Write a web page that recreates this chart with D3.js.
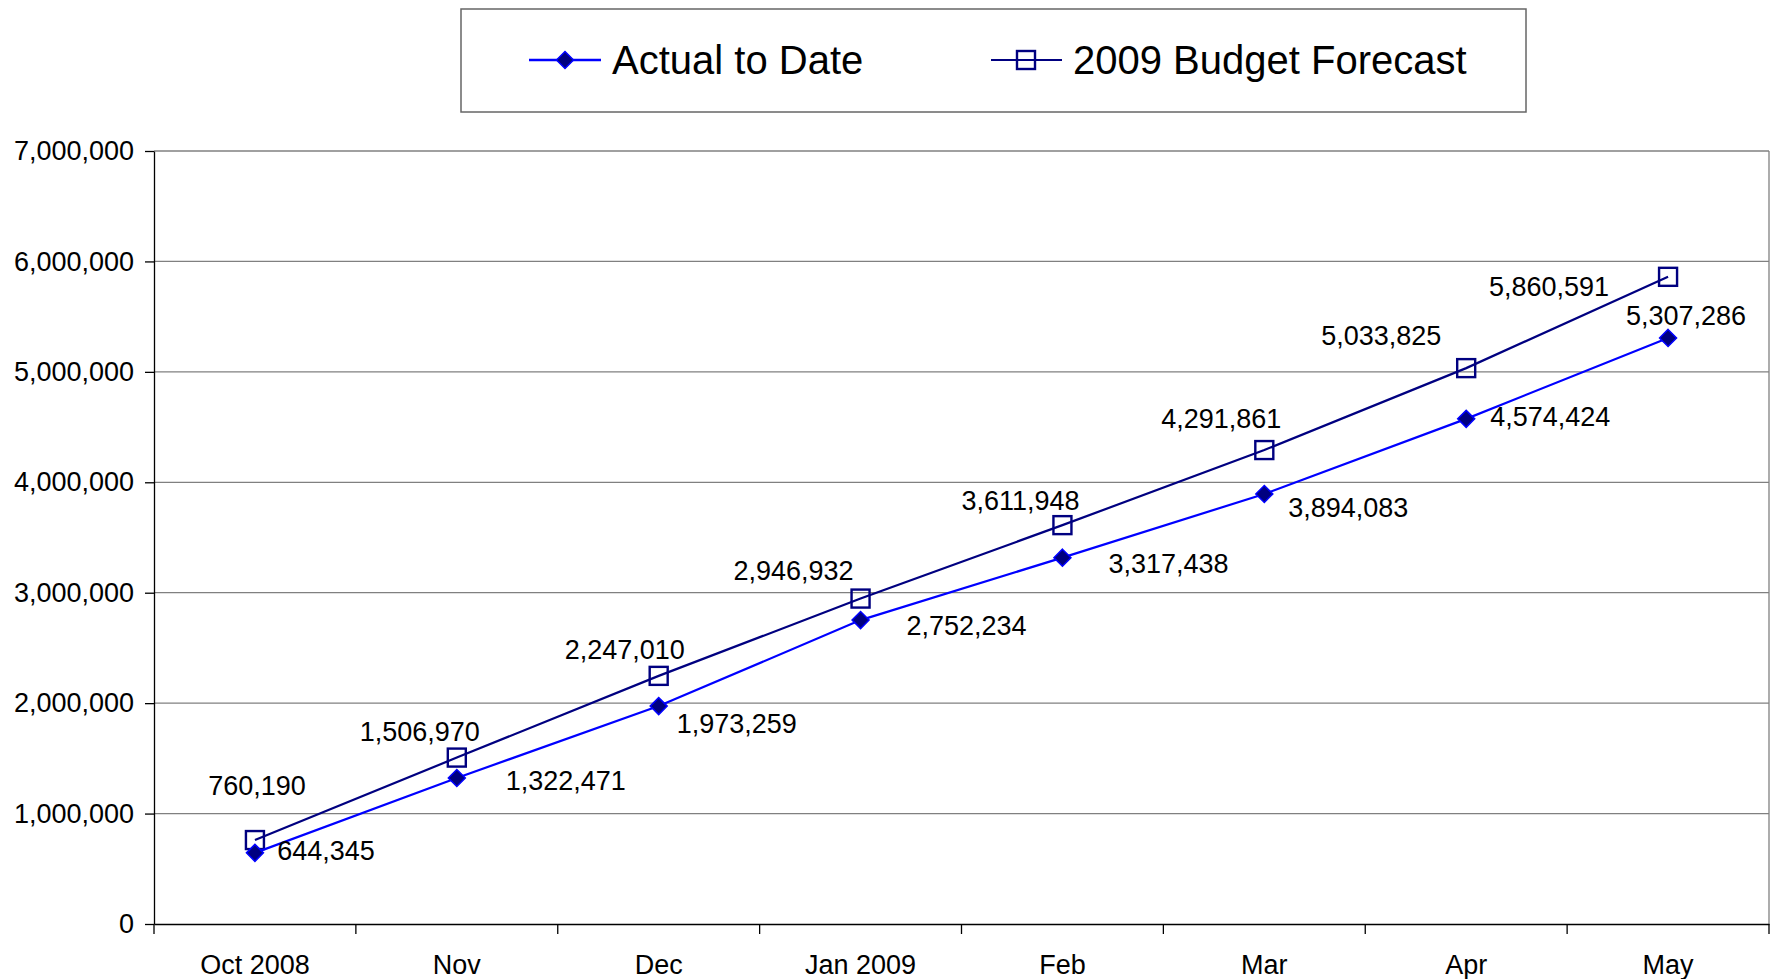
<!DOCTYPE html>
<html>
<head>
<meta charset="utf-8">
<script src="https://cdn.jsdelivr.net/npm/d3@7"></script>
<style>
html,body{margin:0;padding:0;background:#fff;}
svg{display:block;font-family:"Liberation Sans",Arial,sans-serif;}
</style>
</head>
<body>
<svg id="chart" width="1776" height="979"></svg>
<script>
const categories = ["Oct 2008","Nov","Dec","Jan 2009","Feb","Mar","Apr","May"];
const actualToDate = [644345,1322471,1973259,2752234,3317438,3894083,4574424,5307286];
const budgetForecast = [760190,1506970,2247010,2946932,3611948,4291861,5033825,5860591];
const yTicks = [0,1000000,2000000,3000000,4000000,5000000,6000000,7000000];
const seriesNames = ["Actual to Date","2009 Budget Forecast"];
// label offsets (layout only)
const budgetLabelOffsets = [[2,-54],[-37,-26],[-34,-26],[-67,-28],[-42,-24],[-43,-31],[-85,-32],[-119,10]];
const actualLabelOffsets = [[71,-2],[109,3],[78,18],[106,6],[106,6],[84,14],[84,-2],[18,-22]];

const svg = d3.select("#chart");
const L = 154, R = 1769, T = 151, B = 924;
const fs = 27;
const x = d3.scaleBand().domain(categories).range([L,R]).padding(0);
const cx = c => x(c) + x.bandwidth()/2;
const y = d3.scaleLinear().domain([0,7000000]).range([B,T]);
const fmt = d3.format(",");

// gridlines
svg.append("g").selectAll("line").data(yTicks.filter(v=>v>0)).join("line")
  .attr("x1",L).attr("x2",R).attr("y1",d=>y(d)).attr("y2",d=>y(d))
  .attr("stroke","#808080").attr("stroke-width",1.3);
// right border
svg.append("line").attr("x1",R).attr("x2",R).attr("y1",T).attr("y2",B)
  .attr("stroke","#808080").attr("stroke-width",1.3);

// y axis
const yAxis = svg.append("g").attr("transform",`translate(${L},0)`)
  .call(d3.axisLeft(y).tickValues(yTicks).tickFormat(fmt).tickSize(9).tickSizeOuter(0).tickPadding(11));
yAxis.select(".domain").attr("stroke","#000").attr("stroke-width",1.3);
yAxis.selectAll(".tick line").attr("stroke","#000").attr("stroke-width",1.3);
yAxis.selectAll("text").attr("font-size",fs).attr("fill","#000").attr("font-family","Liberation Sans, Arial, sans-serif");

// x axis
const xAxis = svg.append("g").attr("transform",`translate(0,${B})`)
  .call(d3.axisBottom(x).tickSize(0).tickSizeOuter(0).tickPadding(31));
xAxis.select(".domain").attr("stroke","#000").attr("stroke-width",1.6);
xAxis.selectAll("text").attr("font-size",fs).attr("fill","#000").attr("font-family","Liberation Sans, Arial, sans-serif");
const bounds = categories.map(c=>x(c)).concat([R]);
svg.append("g").selectAll("line").data(bounds).join("line")
  .attr("x1",d=>d).attr("x2",d=>d).attr("y1",B).attr("y2",B+10)
  .attr("stroke","#000").attr("stroke-width",1.3);

const line = d3.line().x((d,i)=>cx(categories[i])).y(d=>y(d));

// budget series
svg.append("path").datum(budgetForecast).attr("d",line)
  .attr("fill","none").attr("stroke","#000080").attr("stroke-width",2.2);
svg.append("g").selectAll("rect").data(budgetForecast).join("rect")
  .attr("x",(d,i)=>cx(categories[i])-9).attr("y",d=>y(d)-9)
  .attr("width",18).attr("height",18)
  .attr("fill","none").attr("stroke","#000080").attr("stroke-width",2.4);

// actual series
svg.append("path").datum(actualToDate).attr("d",line)
  .attr("fill","none").attr("stroke","#0000ff").attr("stroke-width",2.2);
function diamondPath(s){return `M0,${-s}L${s},0L0,${s}L${-s},0Z`;}
svg.append("g").selectAll("path").data(actualToDate).join("path")
  .attr("d",diamondPath(8.5))
  .attr("transform",(d,i)=>`translate(${cx(categories[i])},${y(d)})`)
  .attr("fill","#000080").attr("stroke","#0000ff").attr("stroke-width",1.5);

// data labels
svg.append("g").selectAll("text").data(budgetForecast).join("text")
  .attr("x",(d,i)=>cx(categories[i])+budgetLabelOffsets[i][0])
  .attr("y",(d,i)=>y(d)+budgetLabelOffsets[i][1])
  .attr("text-anchor","middle").attr("dominant-baseline","central")
  .attr("font-size",fs).attr("fill","#000").text(fmt);
svg.append("g").selectAll("text").data(actualToDate).join("text")
  .attr("x",(d,i)=>cx(categories[i])+actualLabelOffsets[i][0])
  .attr("y",(d,i)=>y(d)+actualLabelOffsets[i][1])
  .attr("text-anchor","middle").attr("dominant-baseline","central")
  .attr("font-size",fs).attr("fill","#000").text(fmt);

// legend
const lg = svg.append("g");
lg.append("rect").attr("x",461).attr("y",9).attr("width",1065).attr("height",103)
  .attr("fill","#fff").attr("stroke","#666").attr("stroke-width",1.5);
const lgY = 60;
// actual
lg.append("line").attr("x1",529).attr("x2",601).attr("y1",lgY).attr("y2",lgY)
  .attr("stroke","#0000ff").attr("stroke-width",2.6);
lg.append("path").attr("d",diamondPath(8.5)).attr("transform",`translate(565,${lgY})`)
  .attr("fill","#000080").attr("stroke","#0000ff").attr("stroke-width",1.5);
lg.append("text").attr("x",612).attr("y",lgY).attr("dominant-baseline","central")
  .attr("font-size",40).attr("fill","#000").text(seriesNames[0]);
// budget
lg.append("line").attr("x1",991).attr("x2",1062).attr("y1",lgY).attr("y2",lgY)
  .attr("stroke","#000080").attr("stroke-width",2.2);
lg.append("rect").attr("x",1026-9).attr("y",lgY-9).attr("width",18).attr("height",18)
  .attr("fill","none").attr("stroke","#000080").attr("stroke-width",2.4);
lg.append("text").attr("x",1073).attr("y",lgY).attr("dominant-baseline","central")
  .attr("font-size",40).attr("fill","#000").text(seriesNames[1]);
</script>
</body>
</html>
